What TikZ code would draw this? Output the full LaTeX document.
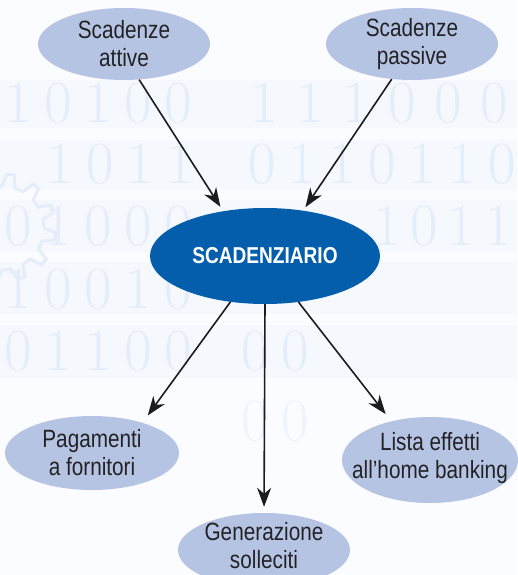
\documentclass[tikz,border=0pt]{standalone}
\usepackage{fontspec}
\newfontfamily\lab[FakeStretch=0.83]{Liberation Sans}
\usetikzlibrary{shapes.geometric,arrows.meta}
\definecolor{lightell}{RGB}{182,196,228}
\definecolor{darkell}{RGB}{4,94,172}
\definecolor{bgdig}{RGB}{230,237,250}
\definecolor{bgband}{RGB}{245,248,253}
\definecolor{bgpaper}{RGB}{251,252,255}
\definecolor{ink}{RGB}{28,28,30}
\definecolor{txt}{RGB}{35,35,38}
\begin{document}
\begin{tikzpicture}[x=1pt,y=-1pt,
  leaf/.style={ellipse, fill=lightell, inner sep=0pt, minimum width=#1},
  leaftext/.style={font=\lab\fontsize{25}{28}\selectfont, text=txt, align=center},
  hub/.style={ellipse, fill=darkell, inner sep=0pt, minimum width=230pt, minimum height=96pt},
  link/.style={draw=ink, line width=1.6pt, -{Stealth[length=19pt,width=14pt,inset=6pt]}},
  digit/.style={text=bgdig, font=\fontsize{60}{60}\selectfont, inner sep=0pt, anchor=base},
  band/.style={fill=bgband},
  deco/.style={draw=bgdig, line width=5pt}
]
\useasboundingbox (0,0) rectangle (517,575);
\fill[bgpaper] (0,0) rectangle (517,575);

% background bands
\fill[band] (0,80) rectangle (517,128);
\fill[band] (0,140) rectangle (517,190);
\fill[band] (0,200) rectangle (517,252);
\fill[band] (0,262) rectangle (517,314);
\fill[band] (0,325) rectangle (517,378);

% background arcs
\begin{scope}
\clip (0,0) rectangle (517,575);
\foreach \r in {300,335,370,405}
  \draw[deco] (620,640) ++(95:\r) arc (95:178:\r);
\foreach \r in {260,285,310}
  \draw[deco, line width=4pt] (130,800) ++(60:\r) arc (60:125:\r);
\end{scope}

% background gear
\begin{scope}[shift={(2,228)}]
\draw[draw=bgdig, line width=3pt] (0:42) \foreach \a in {0,30,...,330}{ -- (\a+5:54) -- (\a+13:54) -- (\a+18:42) -- (\a+30:42)};
\end{scope}

% background digits
\foreach \d [count=\i] in {1,0,1,0,0} \node[digit] at ({-22+40*\i},122) {\d};
\foreach \d [count=\i] in {1,1,1,0,0,0} \node[digit] at ({218+46*\i},122) {\d};
\foreach \d [count=\i] in {1,0,1,1} \node[digit] at ({20+40*\i},183) {\d};
\foreach \d [count=\i] in {0,1,1,0,1,1,0} \node[digit] at ({222+40*\i},183) {\d};
\foreach \d [count=\i] in {0,1,0,0,0} \node[digit] at ({-22+40*\i},245) {\d};
\foreach \d [count=\i] in {1,0,1,1} \node[digit] at ({350+37*\i},245) {\d};
\foreach \d [count=\i] in {1,0,0,1,0} \node[digit] at ({-22+40*\i},308) {\d};
\foreach \d [count=\i] in {0,1,1,0,0} \node[digit] at ({-22+40*\i},370) {\d};
\node[digit] at (255,370) {0};
\node[digit] at (295,370) {0};
\node[digit, opacity=0.6] at (255,440) {0};
\node[digit, opacity=0.6] at (295,440) {0};

% nodes
\node[leaf=172pt, minimum height=72pt,
  label={[leaftext]center:Scadenze\\attive}] (att) at (124,44) {};
\node[leaf=172pt, minimum height=72pt,
  label={[leaftext]center:Scadenze\\passive}] (pas) at (412,44) {};
\node[hub, label={[font=\lab\bfseries\fontsize{23}{26}\selectfont, text=white]center:SCADENZIARIO}] (sca) at (265,256) {};
\node[leaf=174pt, minimum height=74pt,
  label={[leaftext]center:Pagamenti\\a fornitori}] (pag) at (92,453) {};
\node[leaf=176pt, minimum height=86pt,
  label={[leaftext, yshift=2pt]center:Lista effetti\\all’home banking}] (lis) at (430,460) {};
\node[leaf=172pt, minimum height=74pt,
  label={[leaftext, yshift=4pt]center:Generazione\\solleciti}] (gen) at (264,550) {};

% connectors
\draw[link, shorten >=5pt] (att.293) -- (sca.133);
\draw[link, shorten >=4pt] (pas.240) -- (sca.50);
\draw[link, shorten >=9pt] (sca.233) -- (pag.31);
\draw[link, shorten >=6pt] (sca.south) -- (gen.north);
\draw[link, shorten >=9pt] (sca.306) -- (lis.135);
\end{tikzpicture}
\end{document}
